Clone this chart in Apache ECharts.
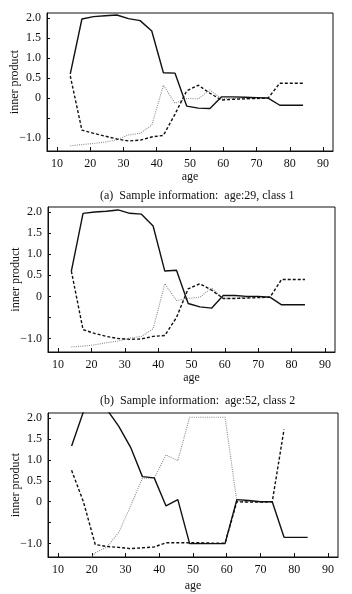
<!DOCTYPE html>
<html>
<head>
<meta charset="utf-8">
<script src="https://cdn.jsdelivr.net/npm/echarts@6/dist/echarts.min.js"></script>
<style>
  html, body { margin: 0; padding: 0; background: #fff; }
  #chart { width: 352px; height: 594px; }
</style>
</head>
<body>
<div id="chart"></div>
<script>
// ages where the curves are sampled
const ages = [14, 17.5, 21, 24.5, 28, 31.5, 35, 38.5, 42, 45.5, 49, 52.5, 56, 59.5, 63, 66.5, 70, 73.5, 77, 80.5, 84];

// (a) age:29, class 1
const solidA  = [0.6, 1.97, 2.03, 2.05, 2.07, 1.98, 1.93, 1.67, 0.63, 0.62, -0.2, -0.25, -0.26, 0.03, 0.03, 0.02, 0.01, 0.0, -0.18, -0.18, -0.18];
const dashedA = [0.55, -0.8, -0.88, -0.95, -1.02, -1.07, -1.05, -0.97, -0.93, -0.4, 0.18, 0.32, 0.12, -0.05, -0.03, -0.02, -0.01, 0.0, 0.37, 0.37, 0.37];
const dottedA = [-1.19, -1.16, -1.13, -1.1, -1.04, -0.92, -0.88, -0.68, 0.32, -0.13, -0.01, -0.02, 0.2, -0.02, -0.01, -0.01, -0.01, 0.0, null, null, null];

// (b) age:52, class 2
const solidB  = [0.6, 1.97, 2.0, 2.02, 2.05, 1.97, 1.95, 1.67, 0.6, 0.62, -0.17, -0.25, -0.28, 0.02, 0.02, 0.0, 0.0, -0.02, -0.2, -0.2, -0.2];
const dashedB = [0.6, -0.79, -0.88, -0.95, -1.0, -1.02, -1.01, -0.95, -0.93, -0.5, 0.18, 0.3, 0.15, -0.05, -0.05, -0.04, -0.03, -0.02, 0.4, 0.4, 0.4];
const dottedB = [-1.2, -1.18, -1.15, -1.1, -1.06, -0.99, -0.95, -0.77, 0.3, -0.1, -0.05, -0.02, 0.2, -0.05, -0.04, -0.03, -0.02, -0.02, null, null, null];

// (c)
const solidC  = [1.33, 2.15, 2.3, 2.2, 1.8, 1.3, 0.6, 0.57, -0.1, 0.05, -1.0, -1.0, -1.0, -1.0, 0.05, 0.03, 0.0, 0.0, -0.85, -0.85, -0.85];
const dashedC = [0.75, 0.0, -1.02, -1.07, -1.09, -1.12, -1.1, -1.08, -0.98, -0.98, -0.98, -0.98, -0.99, -0.99, 0.0, -0.01, -0.01, 0.0, 1.73, null, null];
const dottedC = [null, -1.6, -1.22, -1.08, -0.73, -0.1, 0.56, 0.56, 1.12, 0.98, 2.02, 2.02, 2.02, 2.02, 0.01, 0.0, 0.0, 0.0, null, null, null];

const xTicks = [10, 20, 30, 40, 50, 60, 70, 80, 90];
const yTicks = [-1, -0.5, 0, 0.5, 1, 1.5, 2];
const yLabels = [-1, 0, 0.5, 1, 1.5, 2];

const captions = [
  '(a)  Sample information:  age:29, class 1',
  '(b)  Sample information:  age:52, class 2'
];

const font = 'Liberation Serif';
const panels = [
  { grid: { left: 47, right: 19, top: 13, height: 138 }, gap: 20, data: [solidA, dashedA, dottedA] },
  { grid: { left: 48, right: 17, top: 207, height: 145 }, gap: 20, data: [solidB, dashedB, dottedB] },
  { grid: { left: 48, right: 14, top: 413, height: 144 }, gap: 23, data: [solidC, dashedC, dottedC] }
];

const pairs = vals => ages.map((a, i) => [a, vals[i]]);
const styles = [
  { color: '#111', width: 1.4, type: 'solid' },
  { color: '#111', width: 1.4, type: [3, 2] },
  { color: '#8a8a8a', width: 1.1, type: [1, 1.2] }
];

const chart = echarts.init(document.getElementById('chart'));
chart.setOption({
  animation: false,
  backgroundColor: '#fff',
  title: captions.map((t, i) => ({
    text: t,
    left: 95,
    top: i === 0 ? 185 : 390,
    textStyle: { fontFamily: font, fontSize: 12, fontWeight: 'normal', color: '#111' }
  })),
  grid: panels.map(p => ({
    ...p.grid,
    show: true,
    borderColor: '#111',
    borderWidth: 1,
    containLabel: false,
    outerBoundsMode: 'none'
  })),
  xAxis: panels.map((p, i) => ({
    type: 'value',
    gridIndex: i,
    min: 7,
    max: 93,
    name: 'age',
    nameLocation: 'middle',
    nameGap: p.gap,
    nameMoveOverlap: false,
    nameTextStyle: { fontFamily: font, fontSize: 12, color: '#111' },
    axisLine: { onZero: false, lineStyle: { color: '#111', width: 1 } },
    axisTick: { inside: true, length: 4, customValues: xTicks, lineStyle: { color: '#111' } },
    axisLabel: { customValues: xTicks, margin: 7, fontFamily: font, fontSize: 12, color: '#111' },
    splitLine: { show: false }
  })),
  yAxis: panels.map((p, i) => ({
    type: 'value',
    gridIndex: i,
    min: -1.32,
    max: 2.12,
    name: 'inner product',
    nameLocation: 'middle',
    nameGap: 26,
    nameMoveOverlap: false,
    nameTextStyle: { fontFamily: font, fontSize: 12, color: '#111' },
    axisLine: { onZero: false, lineStyle: { color: '#111', width: 1 } },
    axisTick: { inside: true, length: 3, customValues: yTicks, lineStyle: { color: '#111' } },
    axisLabel: {
      customValues: yLabels,
      margin: 6,
      fontFamily: font,
      fontSize: 12,
      color: '#111',
      formatter: v => v === 0 ? '0' : (v < 0 ? '\u2212' + Math.abs(v).toFixed(1) : v.toFixed(1))
    },
    splitLine: { show: false }
  })),
  series: panels.flatMap((p, i) => p.data.map((vals, k) => ({
    type: 'line',
    xAxisIndex: i,
    yAxisIndex: i,
    data: pairs(vals),
    showSymbol: false,
    connectNulls: false,
    clip: true,
    lineStyle: styles[k],
    z: 3 - k
  })))
});
</script>
</body>
</html>
